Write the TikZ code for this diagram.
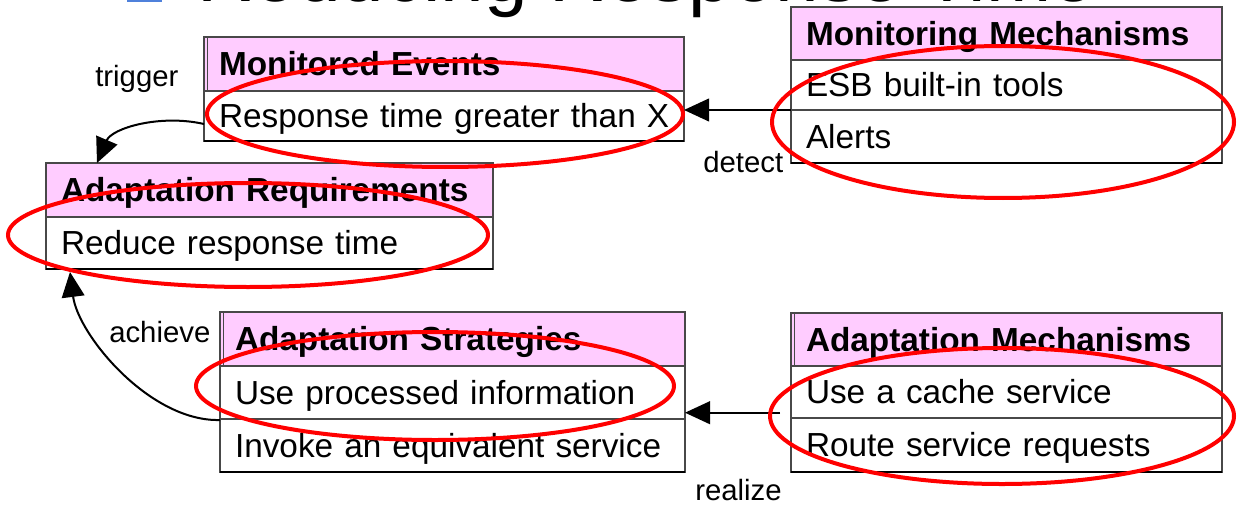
\documentclass[tikz,border=0pt]{standalone}
\usepackage{fontspec}
\setmainfont{Liberation Sans}
\usetikzlibrary{arrows.meta,calc}
\definecolor{headpink}{RGB}{255,204,255}
\definecolor{framegray}{RGB}{72,72,72}
\definecolor{ringred}{RGB}{255,0,0}
\definecolor{bulletblue}{RGB}{79,129,219}
% one-line cell text that never wraps
\newcommand\celltext[1]{\makebox[0pt][l]{#1}}
\begin{document}
\begin{tikzpicture}[x=0.75pt,y=-0.75pt,
  cell/.style 2 args={draw=framegray, line width=0.9pt, anchor=north west, outer sep=0pt,
    inner xsep=11.25pt, inner ysep=0pt, text width=#1, minimum height=#2*0.75pt,
    align=left, text height=17.9pt, text depth=0pt, font=\fontsize{25}{30}\selectfont},
  head/.style 2 args={cell={#1}{#2}, fill=headpink, font=\bfseries\fontsize{25}{30}\selectfont},
  conn/.style={line width=1.5pt, -{Triangle[length=18.75pt,width=17pt]}},
  ring/.style={draw=ringred, line width=3pt},
  verb/.style={anchor=base west, inner sep=0pt, font=\fontsize{22}{26}\selectfont},
  baseline/.style={line width=2pt, black},
  innerrule/.style={draw=framegray, line width=0.6pt},
]
\useasboundingbox (0,0) rectangle (1237,506);
\clip (0,0) rectangle (1237,506);
\fill[white] (0,0) rectangle (1237,506);

% slide title, cut by the top edge
\fill[bulletblue] (127,-33) rectangle (162,2);
\node[anchor=base west, inner sep=0pt, font=\fontsize{58.7}{70}\selectfont] (title) at (197,2) {Reducing Response Time};

% Monitored Events
\node[head={337.5pt}{54}] (me0) at (204,37) {\celltext{Monitored Events}};
\node[cell={337.5pt}{50}] (me1) at (204,91) {\celltext{Response time greater than X}};
\draw[innerrule] ($(me0.north west)+(3,0)$) -- ($(me0.south west)+(3,0)$);
\draw[baseline] (me1.south west) -- (me1.south east);

% Adaptation Requirements
\node[head={312.75pt}{54}] (ar0) at (46,163) {\celltext{Adaptation Requirements}};
\node[cell={312.75pt}{52}] (ar1) at (46,217) {\celltext{Reduce response time}};
\draw[baseline] (ar1.south west) -- (ar1.south east);

% Monitoring Mechanisms
\node[head={300.75pt}{53}] (mm0) at (791,7) {\celltext{Monitoring Mechanisms}};
\node[cell={300.75pt}{50}] (mm1) at (791,60) {\celltext{ESB built-in tools}};
\node[cell={300.75pt}{53}] (mm2) at (791,110) {\celltext{Alerts}};
\draw[baseline] (mm2.south west) -- (mm2.south east);

% Adaptation Strategies
\node[head={326.25pt}{54}] (as0) at (220,312) {\celltext{Adaptation Strategies}};
\node[cell={326.25pt}{53}] (as1) at (220,366) {\celltext{Use processed information}};
\node[cell={326.25pt}{53}] (as2) at (220,419) {\celltext{Invoke an equivalent service}};
\draw[innerrule] ($(as0.north west)+(3,0)$) -- ($(as0.south west)+(3,0)$);
\draw[baseline] (as2.south west) -- (as2.south east);

% Adaptation Mechanisms
\node[head={300.75pt}{53}] (am0) at (791,313) {\celltext{Adaptation Mechanisms}};
\node[cell={300.75pt}{52}] (am1) at (791,366) {\celltext{Use a cache service}};
\node[cell={300.75pt}{54}] (am2) at (791,418) {\celltext{Route service requests}};
\draw[innerrule] ($(am0.north west)+(3,0)$) -- ($(am0.south west)+(3,0)$);
\draw[baseline] (am2.south west) -- (am2.south east);

% connectors
\draw[conn] (mm1.south west) -- (mm1.south west -| me1.east);
\coordinate (rzStart) at (780,412.7);
\draw[conn] (rzStart) -- (rzStart -| as1.east);
\draw[conn] ($(me1.west)+(0,8)$) .. controls (160,114) and (112,128) .. ($(ar0.north west)+(51,0)$);
\draw[conn] ($(as1.south west)+(0,1)$) .. controls (150,422) and (78,335) .. ($(ar1.south west)+(24,3)$);

% connector labels
\node[verb] (lTrig) at (95,87) {trigger};
\node[verb] (lDet) at (703,172) {detect};
\node[verb] (lAch) at (109,342) {achieve};
\node[verb] (lReal) at (695,500) {realize};

% red highlight rings
\draw[ring] (445,114) ellipse [x radius=238, y radius=53];
\draw[ring] (248,235) ellipse [x radius=240, y radius=52];
\draw[ring] (1003,122) ellipse [x radius=231, y radius=76];
\draw[ring] (435,386) ellipse [x radius=239, y radius=54];
\draw[ring] (1002,416) ellipse [x radius=232, y radius=68];
\end{tikzpicture}
\end{document}
